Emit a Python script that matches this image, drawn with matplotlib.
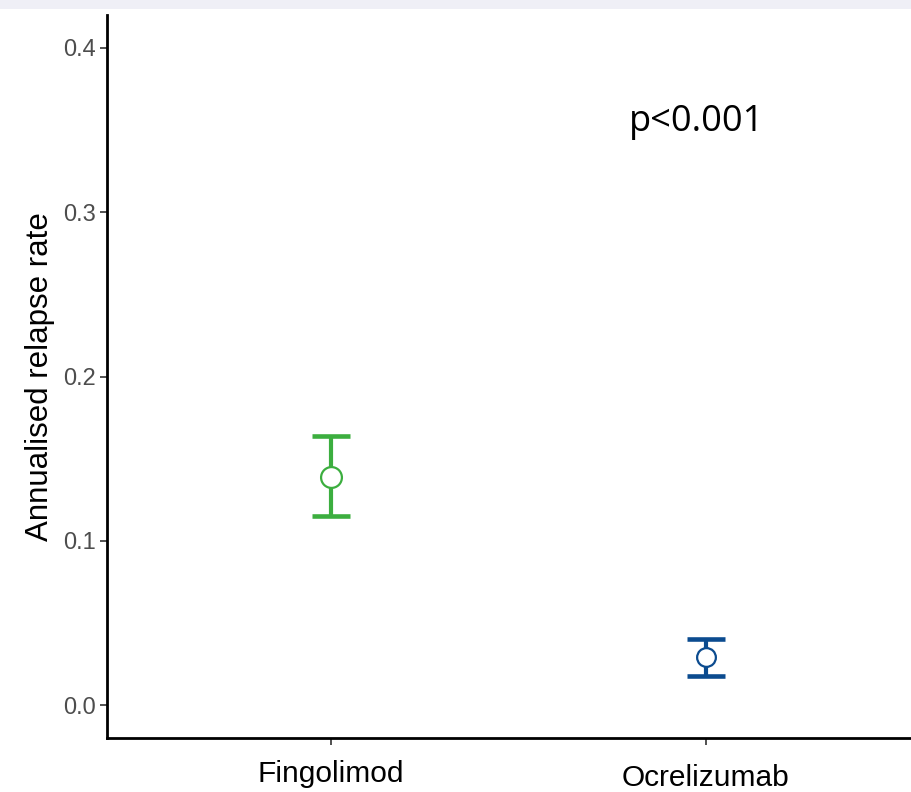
import matplotlib
matplotlib.use("Agg")
import matplotlib.pyplot as plt
from matplotlib.patches import Rectangle
from matplotlib.transforms import ScaledTranslation

# Data
treatments = ["Fingolimod", "Ocrelizumab"]
arr = [0.139, 0.029]
arr_lower = [0.115, 0.018]
arr_upper = [0.164, 0.040]
colors = ["#3cae3f", "#0b4b8f"]
y_ticks = [0.0, 0.1, 0.2, 0.3, 0.4]
p_label = "p<0.001"

plt.rcParams["font.family"] = ["Liberation Sans", "DejaVu Sans"]

fig = plt.figure(figsize=(9.12, 7.92), dpi=100)
# thin grey band at top (remnant of the header)
fig.patches.append(Rectangle((0, 1 - 9 / 792), 1, 9 / 792, transform=fig.transFigure,
                             facecolor="#efeff6", edgecolor="none"))

ax = fig.add_axes([107 / 912, (792 - 738) / 792, 1 - 107 / 912, (738 - 15) / 792])

xs = [1, 2]
msize = [15, 13.5]
for x, m, lo, hi, c, ms in zip(xs, arr, arr_lower, arr_upper, colors, msize):
    ax.errorbar(x, m, yerr=[[m - lo], [hi - m]], fmt="none", ecolor=c,
                elinewidth=3.0, capsize=13.5, capthick=3.3, zorder=2)
    ax.plot(x, m, "o", markersize=ms, markerfacecolor="white",
            markeredgecolor=c, markeredgewidth=1.6, zorder=3)

ax.set_xlim(0.403, 2.55)
ax.set_ylim(-0.02, 0.42)
ax.set_xticks(xs)
ax.set_xticklabels(treatments, fontsize=21.5, color="black")
ax.set_yticks(y_ticks)
ax.set_yticklabels([f"{v:.1f}" for v in y_ticks], fontsize=17, color="#4d4d4d")
ax.set_ylabel("Annualised relapse rate", fontsize=22.5, color="black", labelpad=6)

ax.spines["top"].set_visible(False)
ax.spines["right"].set_visible(False)
for s in ["left", "bottom"]:
    ax.spines[s].set_linewidth(2)
    ax.spines[s].set_color("black")
ax.tick_params(axis="both", length=5, width=1.2, color="#333333")
ax.tick_params(axis="x", pad=11)
ax.tick_params(axis="y", pad=3)

# second category label sits a little lower in the reference
lbl = ax.get_xticklabels()[1]
lbl.set_transform(lbl.get_transform() + ScaledTranslation(0, -4 / 100, fig.dpi_scale_trans))

ax.text(1.976, 0.355, p_label, fontsize=26, family="Open Sans",
        ha="center", va="center", color="black")

fig.savefig("out.png", dpi=100)
